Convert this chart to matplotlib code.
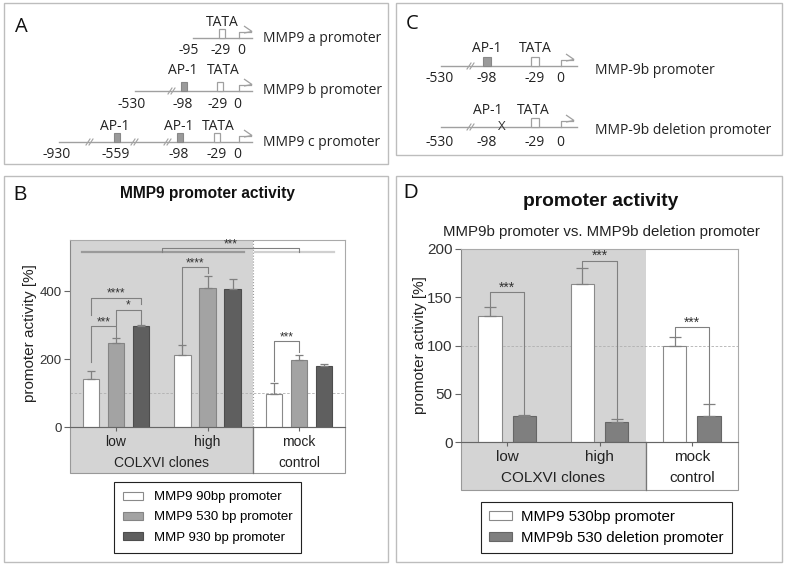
import matplotlib
matplotlib.use("Agg")
import matplotlib.pyplot as plt
from matplotlib.patches import Rectangle, Polygon
from matplotlib.transforms import blended_transform_factory

# ---------------- data ----------------
groups = ["low", "high", "mock"]
group_row2 = ["COLXVI clones", "control"]

b_series = ["MMP9 90bp promoter", "MMP9 530 bp promoter", "MMP 930 bp promoter"]
b_90 = [141, 211, 98]
b_90_err = [25, 30, 31]
b_530 = [246, 410, 198]
b_530_err = [15, 34, 14]
b_930 = [298, 406, 180]
b_930_err = [2, 30, 6]
b_yticks = [0, 200, 400]

d_series = ["MMP9 530bp promoter", "MMP9b 530 deletion promoter"]
d_530 = [131, 164, 100]
d_530_err = [9, 16, 9]
d_del = [27, 21, 27]
d_del_err = [1, 2.5, 12]
d_yticks = [0, 50, 100, 150, 200]

# significance brackets: (x1, x2, y, leg1_end, leg2_end, text)
b_brackets = [
    (-0.273, 0.0, 297, 190, 265, "***"),
    (0.0, 0.273, 345, 299, 304, "*"),
    (-0.273, 0.273, 380, 330, 362, "****"),
    (0.727, 1.0, 470, 234, 453, "****"),
    (1.727, 2.0, 252, 134, 222, "***"),
    (0.5, 2.0, 526, 514, 514, "***"),
]
d_brackets = [
    (-0.186, 0.186, 155, 140, 29, "***"),
    (0.814, 1.186, 188, 180, 25, "***"),
    (1.814, 2.186, 119, 109, 39, "***"),
]

W, H = 786, 566
fig = plt.figure(figsize=(W / 100, H / 100), dpi=100)
ov = fig.add_axes([0, 0, 1, 1], zorder=0)
ov.set_xlim(0, W)
ov.set_ylim(H, 0)
ov.axis("off")

DIAG_FONT = ["Open Sans", "DejaVu Sans"]
CHART_FONT = ["Liberation Sans", "DejaVu Sans"]
LINE = "#a0a0a0"
GRAYBG = "#d4d4d4"

# panel boxes
for (x0, y0, x1, y1) in [(4, 3, 388, 164), (396, 3, 782, 155), (4, 176, 388, 562), (396, 176, 782, 562)]:
    ov.add_patch(Rectangle((x0, y0), x1 - x0, y1 - y0, fill=False, ec="#bdbdbd", lw=1.0))

# panel letters
for letter, (x, y), fam in [("A", (21, 27), DIAG_FONT), ("C", (412, 24), DIAG_FONT),
                            ("B", (20, 195), CHART_FONT), ("D", (411, 192), CHART_FONT)]:
    ov.text(x, y, letter, fontsize=14.5, family=fam, ha="center", va="center", color="#111")


def promoter(y, x0, x1, tata, arrow, ap1=(), breaks=(), deletion=None, boxw=6):
    ov.plot([x0, x1], [y, y], color=LINE, lw=1.0)
    for bx in breaks:
        for dx in (-2, 1):
            ov.plot([bx + dx - 2, bx + dx + 2], [y + 3, y - 3], color=LINE, lw=0.8)
    ov.add_patch(Rectangle((tata - boxw / 2, y - 9), boxw, 9, fc="white", ec=LINE, lw=0.9, zorder=3))
    for ax_ in ap1:
        ov.add_patch(Rectangle((ax_ - boxw / 2, y - 9), boxw, 9, fc="#9a9a9a", ec="#888", lw=0.8, zorder=3))
    if deletion is not None:
        ov.text(deletion, y, "X", fontsize=9.5, family=DIAG_FONT, ha="center", va="center", color="#333")
    ov.plot([arrow, arrow, arrow + 12], [y, y - 6, y - 6], color=LINE, lw=0.9)
    ov.add_patch(Polygon([(arrow + 5, y - 12), (arrow + 13, y - 6.5), (arrow + 5, y - 5)],
                         closed=False, fill=False, ec=LINE, lw=0.9))


def labels(y, items, fs=10):
    for txt, x in items:
        ov.text(x, y, txt, fontsize=fs, family=DIAG_FONT, ha="center", va="center", color="#222")

NAME_FS = 10
# Panel A
promoter(38, 193, 252, 222, 239)
labels(22, [("TATA", 222)])
labels(51, [("-95", 189), ("-29", 221), ("0", 241)])
ov.text(263, 38, "MMP9 a promoter", fontsize=NAME_FS, family=DIAG_FONT, va="center", color="#222")

promoter(91, 135, 252, 220, 239, ap1=[184], breaks=[172])
labels(71, [("AP-1", 183), ("TATA", 223)])
labels(104, [("-530", 132), ("-98", 183), ("-29", 218), ("0", 237)])
ov.text(263, 91, "MMP9 b promoter", fontsize=NAME_FS, family=DIAG_FONT, va="center", color="#222")

promoter(142, 59, 252, 217, 239, ap1=[117, 180], breaks=[90, 135, 168])
labels(126, [("AP-1", 115), ("AP-1", 179), ("TATA", 218)])
labels(155, [("-930", 57), ("-559", 116), ("-98", 179), ("-29", 217), ("0", 237)])
ov.text(263, 142, "MMP9 c promoter", fontsize=NAME_FS, family=DIAG_FONT, va="center", color="#222")

# Panel C
promoter(66, 441, 577, 535, 561, ap1=[487], breaks=[471], boxw=8)
labels(48, [("AP-1", 487), ("TATA", 535)])
labels(79, [("-530", 440), ("-98", 487), ("-29", 535), ("0", 560)])
ov.text(595, 70, "MMP-9b promoter", fontsize=NAME_FS, family=DIAG_FONT, va="center", color="#222")

promoter(127, 441, 577, 535, 561, breaks=[471], deletion=502, boxw=8)
labels(110, [("AP-1", 488), ("TATA", 533)])
labels(143, [("-530", 440), ("-98", 487), ("-29", 535), ("0", 560)])
ov.text(595, 130, "MMP-9b deletion promoter", fontsize=NAME_FS, family=DIAG_FONT, va="center", color="#222")


def fig_axes(x0, y0, x1, y1):
    return fig.add_axes([x0 / W, 1 - y1 / H, (x1 - x0) / W, (y1 - y0) / H], zorder=2)


def style_axes(ax, ylim, yticks, tickfs, labfs, labx):
    ax.set_xlim(-0.5, 2.5)
    ax.set_ylim(*ylim)
    ax.axvspan(-0.5, 1.5, color=GRAYBG, zorder=0, lw=0)
    ax.axhline(100, color="#b0b0b0", ls=(0, (3, 2)), lw=0.6, zorder=0.5)
    for s in ["top", "right"]:
        ax.spines[s].set_color("#aaaaaa")
        ax.spines[s].set_linewidth(0.8)
    ax.spines["left"].set_color("#888888")
    ax.spines["bottom"].set_color("#666666")
    ax.set_yticks(yticks)
    ax.set_xticks(range(len(groups)))
    ax.set_xticklabels([])
    ax.tick_params(axis="y", length=4, color="#666", labelcolor="#333", labelsize=tickfs, pad=2)
    ax.tick_params(axis="x", length=3, color="#666")
    for t in ax.get_yticklabels():
        t.set_family(CHART_FONT)
    ax.set_ylabel("promoter activity [%]", fontsize=labfs, family=CHART_FONT, color="#222")
    ax.yaxis.set_label_coords(labx, 0.5)


def table(ax, h, r1, r2, fs):
    tr = blended_transform_factory(ax.transData, ax.transAxes)
    ax.add_patch(Rectangle((-0.5, -h), 2.0, h, transform=tr, fc=GRAYBG, ec="#999", lw=0.8, clip_on=False))
    ax.add_patch(Rectangle((1.5, -h), 1.0, h, transform=tr, fc="white", ec="#999", lw=0.8, clip_on=False))
    ax.plot([1.5, 1.5], [-h, 0], transform=tr, color="#777", lw=0.9, clip_on=False)
    for i, g in enumerate(groups):
        ax.text(i, -r1, g, transform=tr, ha="center", va="center", fontsize=fs, family=CHART_FONT, color="#222")
    ax.text(0.5, -r2, group_row2[0], transform=tr, ha="center", va="center", fontsize=fs, family=CHART_FONT, color="#222")
    ax.text(2.0, -r2, group_row2[1], transform=tr, ha="center", va="center", fontsize=fs, family=CHART_FONT, color="#222")


def brackets(ax, items, fs, dy):
    for x1, x2, y, e1, e2, txt in items:
        ax.plot([x1, x1, x2, x2], [e1, y, y, e2], color="#808080", lw=0.8, zorder=4)
        ax.text((x1 + x2) / 2, y + dy, txt, ha="center", va="center", fontsize=fs,
                family=CHART_FONT, color="#333", zorder=4)

# ---------------- Panel B ----------------
axB = fig_axes(70, 240, 345, 427)
style_axes(axB, (0, 550), b_yticks, 9.5, 11, -0.12)
axB.axvline(1.5, color="#999", ls=":", lw=0.8, zorder=0.6)
xs = list(range(len(groups)))
off, bw = 0.273, 0.18
ek = dict(fmt="none", ecolor="#808080", elinewidth=0.9, capsize=3, capthick=0.9, zorder=3)
cB = []
for k, (vals, errs, fc, ec) in enumerate([(b_90, b_90_err, "white", "#8a8a8a"),
                                          (b_530, b_530_err, "#a3a3a3", "#858585"),
                                          (b_930, b_930_err, "#5f5f5f", "#4d4d4d")]):
    pos = [x + (k - 1) * off for x in xs]
    cB.append(axB.bar(pos, vals, bw, color=fc, edgecolor=ec, lw=0.8, zorder=2))
    axB.errorbar(pos, vals, yerr=[[0] * len(vals), errs], **ek)
# top long lines
axB.plot([-0.37, 1.40], [514, 514], color="#9a9a9a", lw=1.6, zorder=3)
axB.plot([1.52, 2.38], [514, 514], color="#d0d0d0", lw=1.6, zorder=3)
brackets(axB, b_brackets, 8.5, 12)
table(axB, 46 / 187, 15 / 187, 36 / 187, 10)
axB.set_title("MMP9 promoter activity", fontsize=11.2, fontweight="bold", family=CHART_FONT,
              color="#111", y=1.0 + (240 - 202) / 187, va="center")
legB = axB.legend(cB, b_series, loc="upper left", bbox_to_anchor=(114 / W, 1 - 482 / H),
                  bbox_transform=fig.transFigure, frameon=True, fancybox=False, framealpha=1,
                  edgecolor="#222", handlelength=1.5, handleheight=0.55,
                  labelspacing=0.62, borderpad=0.7, handletextpad=0.8, borderaxespad=0,
                  prop={"family": CHART_FONT, "size": 9.5})
legB.get_frame().set_linewidth(0.8)

# ---------------- Panel D ----------------
axD = fig_axes(461, 249, 738, 442)
style_axes(axD, (0, 200), d_yticks, 11, 11, -0.123)
offD, bwD = 0.186, 0.25
ekD = dict(fmt="none", ecolor="#808080", elinewidth=0.9, capsize=4, capthick=0.9, zorder=3)
cD = []
for k, (vals, errs, fc, ec) in enumerate([(d_530, d_530_err, "white", "#8a8a8a"),
                                          (d_del, d_del_err, "#7f7f7f", "#666666")]):
    pos = [x + (2 * k - 1) * offD for x in xs]
    cD.append(axD.bar(pos, vals, bwD, color=fc, edgecolor=ec, lw=0.8, zorder=2))
    axD.errorbar(pos, vals, yerr=[[0] * len(vals), errs], **ekD)
brackets(axD, d_brackets, 10, 5)
table(axD, 48 / 193, 15 / 193, 36 / 193, 11)
fig.text(601 / W, 1 - 202 / H, "promoter activity", fontsize=13.8, fontweight="bold",
         family=CHART_FONT, ha="center", va="center", color="#111")
fig.text(601 / W, 1 - 232 / H, "MMP9b promoter vs. MMP9b deletion promoter", fontsize=10.8,
         family=CHART_FONT, ha="center", va="center", color="#222")
legD = axD.legend(cD, d_series, loc="upper left", bbox_to_anchor=(481 / W, 1 - 502 / H),
                  bbox_transform=fig.transFigure, frameon=True, fancybox=False, framealpha=1,
                  edgecolor="#222", handlelength=1.5, handleheight=0.55,
                  labelspacing=0.45, borderpad=0.55, handletextpad=0.6, borderaxespad=0,
                  prop={"family": CHART_FONT, "size": 10.8})
legD.get_frame().set_linewidth(0.8)

fig.savefig("out.png", dpi=100)
